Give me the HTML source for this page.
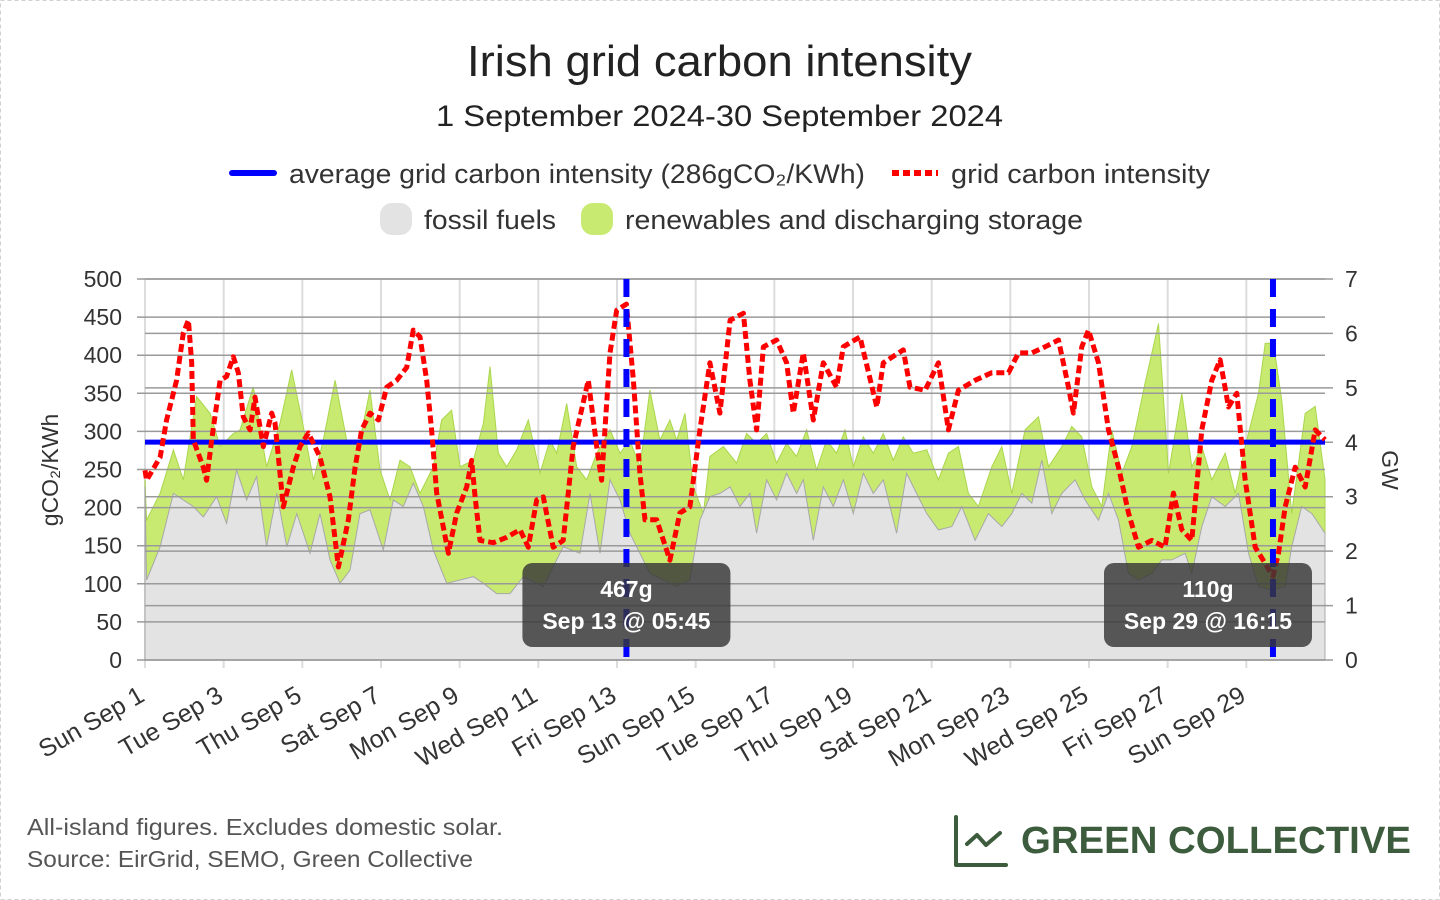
<!DOCTYPE html>
<html><head><meta charset="utf-8"><style>
html,body{margin:0;padding:0;background:#fff;}
body{width:1440px;height:900px;overflow:hidden;font-family:"Liberation Sans",sans-serif;}
svg{display:block;}
</style></head><body>
<svg id="chart" width="1440" height="900" viewBox="0 0 1440 900">
<rect x="0.5" y="0.5" width="1439" height="899" fill="#fff" stroke="#d0d0d0" stroke-dasharray="4,3"/>
<text x="467" y="76" font-size="44" fill="#222" textLength="505" lengthAdjust="spacingAndGlyphs">Irish grid carbon intensity</text>
<text x="436" y="126" font-size="30" fill="#222" textLength="567" lengthAdjust="spacingAndGlyphs">1 September 2024-30 September 2024</text>
<g>
 <g><line x1="232" y1="173" x2="274" y2="173" stroke="#0000ff" stroke-width="6" stroke-linecap="round"/>
 <text x="289" y="183" font-size="27" fill="#333" textLength="576" lengthAdjust="spacingAndGlyphs">average grid carbon intensity (286gCO₂/KWh)</text></g>
 <g><line x1="892" y1="173" x2="938" y2="173" stroke="#ff0000" stroke-width="6" stroke-dasharray="7,4"/>
 <text x="951" y="183" font-size="27" fill="#333" textLength="259" lengthAdjust="spacingAndGlyphs">grid carbon intensity</text></g>
 <g><rect x="380" y="203" width="32" height="32" rx="12" fill="#e3e3e3"/>
 <text x="424" y="229" font-size="27" fill="#333" textLength="132" lengthAdjust="spacingAndGlyphs">fossil fuels</text></g>
 <g><rect x="581" y="203" width="32" height="32" rx="12" fill="#c8ea70"/>
 <text x="625" y="229" font-size="27" fill="#333" textLength="458" lengthAdjust="spacingAndGlyphs">renewables and discharging storage</text></g>
</g>
<g id="plot"></g>
<g>
<text x="27" y="835" font-size="23" fill="#555" textLength="476" lengthAdjust="spacingAndGlyphs">All-island figures. Excludes domestic solar.</text>
<text x="27" y="867" font-size="23" fill="#555" textLength="446" lengthAdjust="spacingAndGlyphs">Source: EirGrid, SEMO, Green Collective</text>
</g>
<g>
<path d="M956,817 V865 H1006" fill="none" stroke="#3d5c3d" stroke-width="4" stroke-linecap="round" stroke-linejoin="round"/>
<path d="M967,844 L977,835 L986,845 L1000,833" fill="none" stroke="#3d5c3d" stroke-width="4" stroke-linecap="round" stroke-linejoin="round"/>
<text x="1021" y="853" font-size="38" font-weight="bold" fill="#3d5c3d" textLength="390" lengthAdjust="spacingAndGlyphs">GREEN COLLECTIVE</text>
</g>
</svg>
<script>
// carbon intensity samples: hours since Sep 1 00:00, gCO2/kWh
const ciHours=[0,1,9.2,13.2,19.3,23.4,26.5,28.5,29.5,35.6,37.6,40.7,45.8,49.8,53.9,56.9,60,64.1,67.1,72.2,77.3,79.3,84.4,90.5,94.6,99.7,106.8,112.9,118,124.1,128.2,132.2,137.3,142.4,147.5,153.6,159.7,163.7,167.8,171.9,174.9,178,185.1,190.2,196.3,199.3,201.4,204.4,212.6,220.7,228.8,233.9,239,243,249.1,255.2,261.3,270.5,275.6,278.6,283.7,287.8,293.75,298,302,305.1,312.2,320.3,326.4,332.5,338.6,344.7,350.8,357,365.1,369.1,373.2,377.3,385.4,391.5,395.6,401.7,407.8,413.9,422,426.1,436.3,446.5,450.5,462.7,466.8,476,484.1,490.2,496.3,506.5,516.7,526.9,533,541.1,549.2,557.4,563.5,566.5,571.6,575.7,581.8,587.9,594,600.1,606.2,614.3,622.4,627.5,632.6,638.7,644.8,650.9,656,661.1,666.2,671.3,677.4,688.25,691.6,695.7,701.8,707.9,714,720];
const ciValues=[249,236,266,315,367,429,446,390,289,253,236,289,367,372,398,377,319,302,345,280,324,311,201,253,280,298,266,214,122,184,253,302,324,315,358,367,384,433,424,367,302,219,140,193,227,262,214,157,154,161,171,148,210,214,148,157,280,367,280,236,403,459,467,367,245,184,184,131,193,201,302,390,324,446,455,367,302,411,420,390,324,403,315,390,358,411,424,332,390,407,358,354,390,302,354,367,377,377,403,403,411,420,358,324,411,433,390,302,253,193,148,157,148,219,171,157,302,367,394,332,350,236,148,110,140,201,253,227,302,289];
// total generation (fossil + renewables) GW
const totHours=[0,1,9.2,17.3,23.4,31.5,39.7,45.8,53.9,58,66.1,74.2,82.4,89.5,96.6,102.8,108.8,116,123.1,131.2,137.3,143.4,149.5,155.6,161.7,167.8,175.9,181,187.1,192.2,200.4,206.5,210.5,215.6,220.7,226.8,233.9,241,247.1,251.2,257.3,263.4,269.5,275.6,283.7,289.8,295.9,302,308.1,314.2,320.3,324.4,329.5,334.6,340.7,344.7,352.9,361,367.1,373.2,379.3,385.4,391.5,397.6,403.7,409.8,415.9,422,427.1,432.2,438.3,444.4,450.5,456.6,462.7,468.8,477,484.1,490.2,496.3,502.4,508.5,516.7,522.8,528.9,537,545.2,551.3,559.4,565.5,571.6,577.7,583.8,589.9,596,602.1,610.2,618.4,624.5,632.6,638.7,644.8,650.9,659.1,665.2,671.3,679.4,683.5,688.5,693.6,699.7,707.9,714,720];
const totGW=[3.31,2.57,3.06,3.86,3.31,4.84,4.53,3.92,4.16,4.23,5.02,3.55,4.35,5.33,4.29,3.31,4.04,5.14,4.04,4.04,4.96,3.49,2.94,3.67,3.55,3.06,3.55,4.41,4.59,3.55,3.67,4.35,5.39,3.8,3.55,3.86,4.41,3.43,4.04,3.80,4.71,3.55,3.31,3.80,4.23,3.80,4.04,3.55,4.96,4.04,4.41,4.04,4.53,3.18,2.69,3.74,3.92,3.62,4.16,3.98,4.16,3.62,3.98,3.74,4.23,3.49,4.04,3.80,4.23,3.55,4.10,3.80,4.16,3.67,4.10,3.80,3.86,3.31,3.80,3.92,3.06,2.82,3.55,3.92,3.06,4.23,4.47,3.55,3.92,4.29,4.10,3.18,2.82,4.23,3.43,3.92,5.09,6.18,3.43,4.90,3.55,3.92,3.31,3.80,3.06,3.92,4.90,5.82,5.82,4.78,2.69,4.53,4.66,3.31];
// fossil generation GW
const fosHours=[0,1,9.2,17.3,23.4,29.5,35.6,43.7,49.8,55.9,62,68.1,74.2,80.4,86.5,92.6,100.7,106.8,112.9,119,125.1,131.2,137.3,145.4,151.5,157.6,163.7,169.8,175.9,184.1,192.2,200.4,206.5,214.6,222.7,230.8,243,255.2,265.4,271.5,277.6,283.7,289.8,295.9,302,308.1,316.3,324.4,332.5,338.6,344.7,350.8,357,363,369.1,373.2,379.3,385.4,391.5,397.6,401.7,407.8,413.9,420,426.1,432.2,438.3,444.4,450.5,458.6,464.7,470.8,477,484.1,492.3,498.4,506.5,514.6,522.8,528.9,535,541.1,547.2,553.3,559.4,567.5,573.6,581.8,587.9,594,600.1,606.2,614.3,620.4,626.5,634.7,638.7,644.8,650.9,659.1,667.2,673.3,679.4,687.5,695.7,699.7,705.8,712,720];
const fosGW=[3.18,1.47,2.08,3.06,2.94,2.82,2.63,3.0,2.51,3.49,2.94,3.37,2.08,3.06,2.08,2.69,1.96,2.69,1.84,1.41,1.65,2.69,2.76,2.02,2.94,2.82,3.25,2.82,2.02,1.41,1.47,1.53,1.41,1.22,1.22,1.53,1.35,2.08,1.96,3.06,1.96,3.31,2.94,2.33,1.96,1.59,1.47,1.35,1.47,2.57,3.0,3.06,3.18,2.82,3.06,2.33,3.31,2.94,3.43,3.06,3.31,2.20,3.18,2.82,3.31,2.69,3.43,3.06,3.31,2.33,3.43,3.06,2.69,2.39,2.45,2.82,2.20,2.69,2.45,2.69,3.06,2.88,3.67,2.69,3.06,3.31,2.94,2.57,3.06,2.57,1.59,1.47,1.59,1.84,1.84,1.96,1.59,2.45,3.0,2.82,3.06,1.96,1.35,1.29,1.35,2.08,2.82,2.69,2.33];
const ciTicks=[0,50,100,150,200,250,300,350,400,450,500];
const gwTicks=[0,1,2,3,4,5,6,7];
const dayLabels=["Sun Sep 1","Tue Sep 3","Thu Sep 5","Sat Sep 7","Mon Sep 9","Wed Sep 11","Fri Sep 13","Sun Sep 15","Tue Sep 17","Thu Sep 19","Sat Sep 21","Mon Sep 23","Wed Sep 25","Fri Sep 27","Sun Sep 29"];
const averageCI=286;
const extremes=[{h:293.75,v:467,label:"467g",when:"Sep 13 @ 05:45"},{h:688.25,v:110,label:"110g",when:"Sep 29 @ 16:15"}];

const X0=145,X1=1325,Y0=660,Y1=279,TOTAL_H=720;
const xs=h=>X0+(h/TOTAL_H)*(X1-X0);
const yCI=v=>Y0-(v/500)*(Y0-Y1);
const yGW=g=>Y0-(g/7)*(Y0-Y1);
const NS="http://www.w3.org/2000/svg";
const plot=document.getElementById('plot');
function mk(tag,attrs,parent){const e=document.createElementNS(NS,tag);for(const k in attrs)e.setAttribute(k,attrs[k]);(parent||plot).appendChild(e);return e;}

for(let i=0;i<dayLabels.length;i++){
 const x=xs(i*48);
 const l=mk('line',{x1:x,y1:Y1,x2:x,y2:Y0+8,stroke:'#dcdcdc','stroke-width':2});
 
 
}
function areaPath(hours,vals){let d='M'+xs(hours[0])+','+Y0;for(let i=0;i<hours.length;i++)d+=' L'+xs(hours[i]).toFixed(1)+','+yGW(vals[i]).toFixed(1);d+=' L'+xs(hours[hours.length-1])+','+Y0+' Z';return d;}
function linePath(hours,vals,yf){let d='';for(let i=0;i<hours.length;i++)d+=(i?' L':'M')+xs(hours[i]).toFixed(1)+','+yf(vals[i]).toFixed(1);return d;}
const ren=mk('path',{d:areaPath(totHours,totGW),fill:'#c8ea70',stroke:'#a9d64c','stroke-width':1});


const fos=mk('path',{d:areaPath(fosHours,fosGW),fill:'#e3e3e3',stroke:'#a8a8a8','stroke-width':1});


ciTicks.forEach(v=>{const y=yCI(v);
 const l=mk('line',{x1:X0-8,y1:y,x2:X1,y2:y,stroke:'#9a9a9a','stroke-width':1.5});
 
 
 const t=mk('text',{x:122,y:y+8,'text-anchor':'end','font-size':23,fill:'#333'});
 t.textContent=v;
 
 
});
gwTicks.forEach(g=>{const y=yGW(g);
 const l=mk('line',{x1:X0,y1:y,x2:X1+8,y2:y,stroke:'#9a9a9a','stroke-width':1.5});
 
 
 const t=mk('text',{x:1345,y:y+8,'font-size':23,fill:'#333'});
 t.textContent=g;
 
 
});
dayLabels.forEach((s,i)=>{const x=xs(i*48)+1;
 const t=mk('text',{x:x,y:700,'text-anchor':'end','font-size':25,fill:'#333',transform:'rotate(-30 '+x+' 700)'});
 t.textContent=s;
 
 
});
const yt=mk('text',{x:0,y:0,'text-anchor':'middle','font-size':23,fill:'#333',transform:'translate(58 470) rotate(-90)'});
yt.textContent='gCO₂/KWh';


const gt=mk('text',{x:0,y:0,'text-anchor':'middle','font-size':23,fill:'#333',transform:'translate(1382 470) rotate(90)'});
gt.textContent='GW';


const av=mk('line',{x1:X0,y1:yCI(averageCI),x2:X1,y2:yCI(averageCI),stroke:'#0000ff','stroke-width':5});


const ci=mk('path',{d:linePath(ciHours,ciValues,yCI),fill:'none',stroke:'#ff0000','stroke-width':5,'stroke-dasharray':'8,4','stroke-linejoin':'round'});


extremes.forEach(e=>{const x=xs(e.h);
 const v=mk('line',{x1:x,y1:Y1,x2:x,y2:Y0,stroke:'#0000ff','stroke-width':6,'stroke-dasharray':'18,12'});
 
 
 const g=mk('g',{});
 
 
 let bx=x-104; if(bx+208>X1-12) bx=X1-13-208;
 mk('rect',{x:bx,y:563,width:208,height:84,rx:10,fill:'rgba(55,55,55,0.82)'},g);
 const t1=mk('text',{x:bx+104,y:597,'text-anchor':'middle','font-size':23,'font-weight':'bold',fill:'#fff'},g);t1.textContent=e.label;
 const t2=mk('text',{x:bx+104,y:629,'text-anchor':'middle','font-size':23,'font-weight':'bold',fill:'#fff'},g);t2.textContent=e.when;
});
</script>
</body></html>
